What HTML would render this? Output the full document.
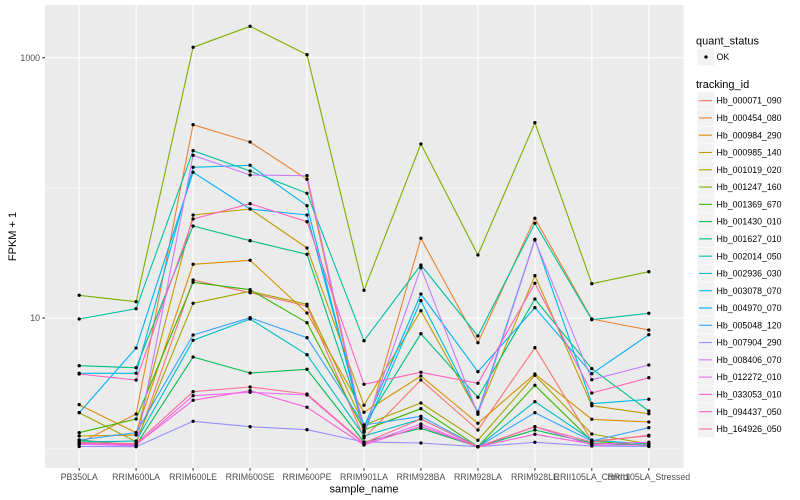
<!DOCTYPE html>
<html><head><meta charset="utf-8"><style>
html,body{margin:0;padding:0;background:#fff;}
svg{display:block;font-family:"Liberation Sans",Arial,sans-serif;}
</style></head><body>
<svg width="800" height="500" viewBox="0 0 800 500" xmlns="http://www.w3.org/2000/svg">
<defs>
<marker id="pt" markerWidth="4" markerHeight="4" refX="2" refY="2" markerUnits="userSpaceOnUse" overflow="visible"><circle cx="2" cy="2" r="1.65" fill="#000"/></marker>
</defs>
<rect x="0" y="0" width="800" height="500" fill="#fff"/>
<rect x="45" y="5" width="638.5" height="463" fill="#EBEBEB"/>
<g stroke="#fff" fill="none">
<line x1="45" x2="683.5" y1="187.85" y2="187.85" stroke-width="0.53"/>
<line x1="45" x2="683.5" y1="448.15" y2="448.15" stroke-width="0.53"/>
<line x1="45" x2="683.5" y1="57.7" y2="57.7" stroke-width="1.07"/>
<line x1="45" x2="683.5" y1="318" y2="318" stroke-width="1.07"/>
<g stroke-width="1.07">
<line x1="79.2" x2="79.2" y1="5" y2="468"/>
<line x1="136.1" x2="136.1" y1="5" y2="468"/>
<line x1="193.1" x2="193.1" y1="5" y2="468"/>
<line x1="250.1" x2="250.1" y1="5" y2="468"/>
<line x1="307.0" x2="307.0" y1="5" y2="468"/>
<line x1="364.0" x2="364.0" y1="5" y2="468"/>
<line x1="420.9" x2="420.9" y1="5" y2="468"/>
<line x1="477.9" x2="477.9" y1="5" y2="468"/>
<line x1="534.9" x2="534.9" y1="5" y2="468"/>
<line x1="591.8" x2="591.8" y1="5" y2="468"/>
<line x1="648.8" x2="648.8" y1="5" y2="468"/>
</g>
</g>

<g fill="none" stroke-width="1.1" stroke-linejoin="round">
<polyline id="s0" stroke="#F8766D" points="79.2,443 136.1,444 193.1,280 250.1,292.7 307,306 364,438 420.9,380 477.9,430 534.9,347.7 591.8,441 648.8,436"/>
<polyline id="s1" stroke="#EA8331" points="79.2,443.3 136.1,414 193.1,124.7 250.1,142 307,179.3 364,436 420.9,238.3 477.9,342.7 534.9,218.3 591.8,319 648.8,330"/>
<polyline id="s2" stroke="#D89000" points="79.2,404.7 136.1,432.7 193.1,264.3 250.1,260.3 307,313 364,412.3 420.9,376 477.9,423.3 534.9,374 591.8,419.3 648.8,422"/>
<polyline id="s3" stroke="#C09B00" points="79.2,436 136.1,435 193.1,215 250.1,209 307,248 364,405.3 420.9,310.7 477.9,412.7 534.9,275.7 591.8,405.7 648.8,413.7"/>
<polyline id="s4" stroke="#A3A500" points="79.2,412.7 136.1,441.7 193.1,303.3 250.1,291.3 307,304.3 364,425 420.9,403 477.9,440.3 534.9,375.3 591.8,434 648.8,444"/>
<polyline id="s5" stroke="#7CAE00" points="79.2,295.3 136.1,301.7 193.1,47.3 250.1,26.3 307,54.7 364,290.3 420.9,144 477.9,255 534.9,122.7 591.8,283.7 648.8,271.7"/>
<polyline id="s6" stroke="#39B600" points="79.2,432.7 136.1,419 193.1,282.3 250.1,289.7 307,322.7 364,430 420.9,408.7 477.9,446.7 534.9,385.3 591.8,441 648.8,446"/>
<polyline id="s7" stroke="#00BB4E" points="79.2,440 136.1,445 193.1,357 250.1,373 307,369.3 364,442 420.9,428.3 477.9,446.7 534.9,430 591.8,443 648.8,445"/>
<polyline id="s8" stroke="#00BF7D" points="79.2,365.7 136.1,367.7 193.1,226 250.1,240.7 307,254.3 364,425.3 420.9,333.7 477.9,397.3 534.9,299 591.8,368.7 648.8,411"/>
<polyline id="s9" stroke="#00C1A3" points="79.2,319 136.1,308.7 193.1,150.7 250.1,171 307,193.3 364,340.7 420.9,265 477.9,336 534.9,223.3 591.8,319.7 648.8,313.3"/>
<polyline id="s10" stroke="#00BFC4" points="79.2,442 136.1,441 193.1,340.3 250.1,319 307,354.7 364,436 420.9,419 477.9,446.7 534.9,401.7 591.8,440 648.8,444.3"/>
<polyline id="s11" stroke="#00BAE0" points="79.2,373.3 136.1,373.3 193.1,167.3 250.1,165.3 307,205.7 364,432 420.9,300.7 477.9,412 534.9,239.3 591.8,403.7 648.8,399.3"/>
<polyline id="s12" stroke="#00B0F6" points="79.2,412.7 136.1,348 193.1,172.3 250.1,209 307,215 364,427 420.9,294 477.9,371.7 534.9,307.7 591.8,373.7 648.8,334.7"/>
<polyline id="s13" stroke="#35A2FF" points="79.2,440 136.1,432.7 193.1,335 250.1,317.7 307,337.7 364,425 420.9,416.3 477.9,446.7 534.9,412.7 591.8,441 648.8,427.7"/>
<polyline id="s14" stroke="#9590FF" points="79.2,446.5 136.1,446.7 193.1,421.3 250.1,426.7 307,429.7 364,442 420.9,443 477.9,446.7 534.9,442.3 591.8,446 648.8,446.5"/>
<polyline id="s15" stroke="#C77CFF" points="79.2,444 136.1,446 193.1,155.3 250.1,175 307,175.7 364,432 420.9,267.7 477.9,414.3 534.9,240 591.8,379.7 648.8,365"/>
<polyline id="s16" stroke="#E76BF3" points="79.2,444.5 136.1,445 193.1,395.7 250.1,392.3 307,395 364,444 420.9,424 477.9,446.7 534.9,426.7 591.8,445 648.8,445"/>
<polyline id="s17" stroke="#FA62DB" points="79.2,443.5 136.1,444.5 193.1,400.3 250.1,390.7 307,407.3 364,445 420.9,426.3 477.9,446.7 534.9,434.3 591.8,444 648.8,442.3"/>
<polyline id="s18" stroke="#FF62BC" points="79.2,374 136.1,380 193.1,219 250.1,203.7 307,221.7 364,384.3 420.9,372.3 477.9,383.3 534.9,283.3 591.8,393 648.8,377.7"/>
<polyline id="s19" stroke="#FF6C91" points="79.2,442.7 136.1,443.5 193.1,391.7 250.1,387 307,394 364,443 420.9,419 477.9,446.7 534.9,426.7 591.8,442 648.8,435.3"/>
</g>

<g fill="none" stroke="none" marker-start="url(#pt)" marker-mid="url(#pt)" marker-end="url(#pt)">
<polyline points="79.2,443 136.1,444 193.1,280 250.1,292.7 307,306 364,438 420.9,380 477.9,430 534.9,347.7 591.8,441 648.8,436"/>
<polyline points="79.2,443.3 136.1,414 193.1,124.7 250.1,142 307,179.3 364,436 420.9,238.3 477.9,342.7 534.9,218.3 591.8,319 648.8,330"/>
<polyline points="79.2,404.7 136.1,432.7 193.1,264.3 250.1,260.3 307,313 364,412.3 420.9,376 477.9,423.3 534.9,374 591.8,419.3 648.8,422"/>
<polyline points="79.2,436 136.1,435 193.1,215 250.1,209 307,248 364,405.3 420.9,310.7 477.9,412.7 534.9,275.7 591.8,405.7 648.8,413.7"/>
<polyline points="79.2,412.7 136.1,441.7 193.1,303.3 250.1,291.3 307,304.3 364,425 420.9,403 477.9,440.3 534.9,375.3 591.8,434 648.8,444"/>
<polyline points="79.2,295.3 136.1,301.7 193.1,47.3 250.1,26.3 307,54.7 364,290.3 420.9,144 477.9,255 534.9,122.7 591.8,283.7 648.8,271.7"/>
<polyline points="79.2,432.7 136.1,419 193.1,282.3 250.1,289.7 307,322.7 364,430 420.9,408.7 477.9,446.7 534.9,385.3 591.8,441 648.8,446"/>
<polyline points="79.2,440 136.1,445 193.1,357 250.1,373 307,369.3 364,442 420.9,428.3 477.9,446.7 534.9,430 591.8,443 648.8,445"/>
<polyline points="79.2,365.7 136.1,367.7 193.1,226 250.1,240.7 307,254.3 364,425.3 420.9,333.7 477.9,397.3 534.9,299 591.8,368.7 648.8,411"/>
<polyline points="79.2,319 136.1,308.7 193.1,150.7 250.1,171 307,193.3 364,340.7 420.9,265 477.9,336 534.9,223.3 591.8,319.7 648.8,313.3"/>
<polyline points="79.2,442 136.1,441 193.1,340.3 250.1,319 307,354.7 364,436 420.9,419 477.9,446.7 534.9,401.7 591.8,440 648.8,444.3"/>
<polyline points="79.2,373.3 136.1,373.3 193.1,167.3 250.1,165.3 307,205.7 364,432 420.9,300.7 477.9,412 534.9,239.3 591.8,403.7 648.8,399.3"/>
<polyline points="79.2,412.7 136.1,348 193.1,172.3 250.1,209 307,215 364,427 420.9,294 477.9,371.7 534.9,307.7 591.8,373.7 648.8,334.7"/>
<polyline points="79.2,440 136.1,432.7 193.1,335 250.1,317.7 307,337.7 364,425 420.9,416.3 477.9,446.7 534.9,412.7 591.8,441 648.8,427.7"/>
<polyline points="79.2,446.5 136.1,446.7 193.1,421.3 250.1,426.7 307,429.7 364,442 420.9,443 477.9,446.7 534.9,442.3 591.8,446 648.8,446.5"/>
<polyline points="79.2,444 136.1,446 193.1,155.3 250.1,175 307,175.7 364,432 420.9,267.7 477.9,414.3 534.9,240 591.8,379.7 648.8,365"/>
<polyline points="79.2,444.5 136.1,445 193.1,395.7 250.1,392.3 307,395 364,444 420.9,424 477.9,446.7 534.9,426.7 591.8,445 648.8,445"/>
<polyline points="79.2,443.5 136.1,444.5 193.1,400.3 250.1,390.7 307,407.3 364,445 420.9,426.3 477.9,446.7 534.9,434.3 591.8,444 648.8,442.3"/>
<polyline points="79.2,374 136.1,380 193.1,219 250.1,203.7 307,221.7 364,384.3 420.9,372.3 477.9,383.3 534.9,283.3 591.8,393 648.8,377.7"/>
<polyline points="79.2,442.7 136.1,443.5 193.1,391.7 250.1,387 307,394 364,443 420.9,419 477.9,446.7 534.9,426.7 591.8,442 648.8,435.3"/>
</g>

<!-- axes ticks -->
<g stroke="#333" stroke-width="1.07">
<line x1="42.3" x2="45" y1="57.7" y2="57.7"/>
<line x1="42.3" x2="45" y1="318" y2="318"/>
<line x1="79.2" x2="79.2" y1="468" y2="470.7"/>
<line x1="136.1" x2="136.1" y1="468" y2="470.7"/>
<line x1="193.1" x2="193.1" y1="468" y2="470.7"/>
<line x1="250.1" x2="250.1" y1="468" y2="470.7"/>
<line x1="307.0" x2="307.0" y1="468" y2="470.7"/>
<line x1="364.0" x2="364.0" y1="468" y2="470.7"/>
<line x1="420.9" x2="420.9" y1="468" y2="470.7"/>
<line x1="477.9" x2="477.9" y1="468" y2="470.7"/>
<line x1="534.9" x2="534.9" y1="468" y2="470.7"/>
<line x1="591.8" x2="591.8" y1="468" y2="470.7"/>
<line x1="648.8" x2="648.8" y1="468" y2="470.7"/>
</g>
<g fill="#4D4D4D" font-size="8.8">
<text x="40" y="60.8" text-anchor="end">1000</text>
<text x="40" y="321.1" text-anchor="end">10</text>
</g>
<g fill="#4D4D4D" font-size="8.8" text-anchor="middle">
<text x="79.2" y="480.2">PB350LA</text>
<text x="136.1" y="480.2">RRIM600LA</text>
<text x="193.1" y="480.2">RRIM600LE</text>
<text x="250.1" y="480.2">RRIM600SE</text>
<text x="307.0" y="480.2">RRIM600PE</text>
<text x="364.0" y="480.2">RRIM901LA</text>
<text x="420.9" y="480.2">RRIM928BA</text>
<text x="477.9" y="480.2">RRIM928LA</text>
<text x="534.9" y="480.2">RRIM928LE</text>
<text x="591.8" y="480.2">RRII105LA_Control</text>
<text x="648.8" y="480.2">RRII105LA_Stressed</text>
</g>
<text x="364" y="492.5" font-size="11" text-anchor="middle" fill="#000">sample_name</text>
<text transform="translate(16,236.5) rotate(-90)" font-size="11" text-anchor="middle" fill="#000">FPKM + 1</text>

<!-- legend -->
<text x="696" y="44.6" font-size="11" fill="#000">quant_status</text>
<rect x="697.3" y="48.3" width="17.3" height="17.3" fill="#F2F2F2" stroke="#fff" stroke-width="0.5"/>
<circle cx="706" cy="57" r="1.65" fill="#000"/>
<text x="716.5" y="60.1" font-size="8.8" fill="#000">OK</text>

<text x="696" y="88.2" font-size="11" fill="#000">tracking_id</text>
<g stroke="#fff" stroke-width="0.5" fill="#F2F2F2">
<rect x="697.3" y="92" width="17.3" height="17.28"/>
<rect x="697.3" y="109.28" width="17.3" height="17.28"/>
<rect x="697.3" y="126.56" width="17.3" height="17.28"/>
<rect x="697.3" y="143.84" width="17.3" height="17.28"/>
<rect x="697.3" y="161.12" width="17.3" height="17.28"/>
<rect x="697.3" y="178.4" width="17.3" height="17.28"/>
<rect x="697.3" y="195.68" width="17.3" height="17.28"/>
<rect x="697.3" y="212.96" width="17.3" height="17.28"/>
<rect x="697.3" y="230.24" width="17.3" height="17.28"/>
<rect x="697.3" y="247.52" width="17.3" height="17.28"/>
<rect x="697.3" y="264.8" width="17.3" height="17.28"/>
<rect x="697.3" y="282.08" width="17.3" height="17.28"/>
<rect x="697.3" y="299.36" width="17.3" height="17.28"/>
<rect x="697.3" y="316.64" width="17.3" height="17.28"/>
<rect x="697.3" y="333.92" width="17.3" height="17.28"/>
<rect x="697.3" y="351.2" width="17.3" height="17.28"/>
<rect x="697.3" y="368.48" width="17.3" height="17.28"/>
<rect x="697.3" y="385.76" width="17.3" height="17.28"/>
<rect x="697.3" y="403.04" width="17.3" height="17.28"/>
<rect x="697.3" y="420.32" width="17.3" height="17.28"/>
</g>
<g stroke-width="1.1">
<line x1="699" x2="712" y1="100.64" y2="100.64" stroke="#F8766D"/>
<line x1="699" x2="712" y1="117.92" y2="117.92" stroke="#EA8331"/>
<line x1="699" x2="712" y1="135.2" y2="135.2" stroke="#D89000"/>
<line x1="699" x2="712" y1="152.48" y2="152.48" stroke="#C09B00"/>
<line x1="699" x2="712" y1="169.76" y2="169.76" stroke="#A3A500"/>
<line x1="699" x2="712" y1="187.04" y2="187.04" stroke="#7CAE00"/>
<line x1="699" x2="712" y1="204.32" y2="204.32" stroke="#39B600"/>
<line x1="699" x2="712" y1="221.6" y2="221.6" stroke="#00BB4E"/>
<line x1="699" x2="712" y1="238.88" y2="238.88" stroke="#00BF7D"/>
<line x1="699" x2="712" y1="256.16" y2="256.16" stroke="#00C1A3"/>
<line x1="699" x2="712" y1="273.44" y2="273.44" stroke="#00BFC4"/>
<line x1="699" x2="712" y1="290.72" y2="290.72" stroke="#00BAE0"/>
<line x1="699" x2="712" y1="308" y2="308" stroke="#00B0F6"/>
<line x1="699" x2="712" y1="325.28" y2="325.28" stroke="#35A2FF"/>
<line x1="699" x2="712" y1="342.56" y2="342.56" stroke="#9590FF"/>
<line x1="699" x2="712" y1="359.84" y2="359.84" stroke="#C77CFF"/>
<line x1="699" x2="712" y1="377.12" y2="377.12" stroke="#E76BF3"/>
<line x1="699" x2="712" y1="394.4" y2="394.4" stroke="#FA62DB"/>
<line x1="699" x2="712" y1="411.68" y2="411.68" stroke="#FF62BC"/>
<line x1="699" x2="712" y1="428.96" y2="428.96" stroke="#FF6C91"/>
</g>
<g font-size="8.8" fill="#000">
<text x="716.5" y="103.74">Hb_000071_090</text>
<text x="716.5" y="121.02">Hb_000454_080</text>
<text x="716.5" y="138.3">Hb_000984_290</text>
<text x="716.5" y="155.58">Hb_000985_140</text>
<text x="716.5" y="172.86">Hb_001019_020</text>
<text x="716.5" y="190.14">Hb_001247_160</text>
<text x="716.5" y="207.42">Hb_001369_670</text>
<text x="716.5" y="224.7">Hb_001430_010</text>
<text x="716.5" y="241.98">Hb_001627_010</text>
<text x="716.5" y="259.26">Hb_002014_050</text>
<text x="716.5" y="276.54">Hb_002936_030</text>
<text x="716.5" y="293.82">Hb_003078_070</text>
<text x="716.5" y="311.1">Hb_004970_070</text>
<text x="716.5" y="328.38">Hb_005048_120</text>
<text x="716.5" y="345.66">Hb_007904_290</text>
<text x="716.5" y="362.94">Hb_008406_070</text>
<text x="716.5" y="380.22">Hb_012272_010</text>
<text x="716.5" y="397.5">Hb_033053_010</text>
<text x="716.5" y="414.78">Hb_094437_050</text>
<text x="716.5" y="432.06">Hb_164926_050</text>
</g>
</svg>
</body></html>
